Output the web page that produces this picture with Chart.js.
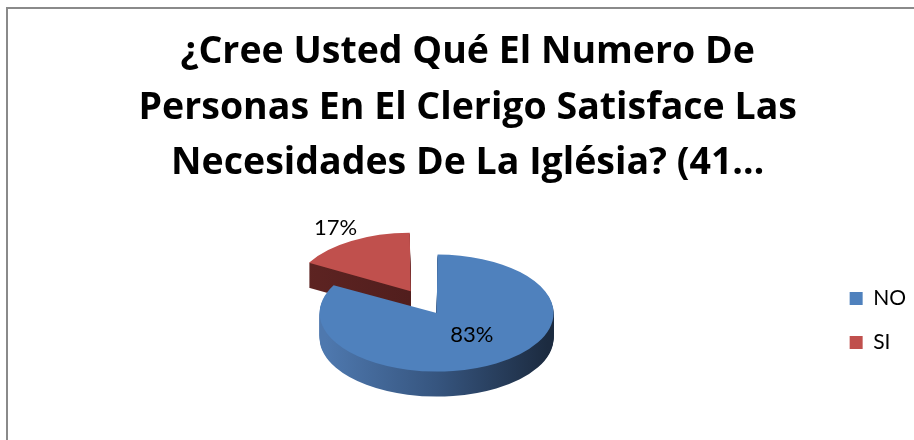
<!DOCTYPE html>
<html>
<head>
<meta charset="utf-8">
<script src="https://cdn.jsdelivr.net/npm/chart.js@4"></script>
<style>
  body { margin: 0; background: #fff; }
  .wrap { position: relative; width: 914px; height: 440px; overflow: hidden; }
  .frame {
    position: absolute; left: 6px; top: 7px; right: -10px; bottom: -10px;
    border-top: 2px solid #8a8a8a; border-left: 2px solid #8a8a8a;
    pointer-events: none;
  }
  canvas { position: absolute; left: 0; top: 0; }
</style>
</head>
<body>
<div class="wrap">
  <canvas id="chart" width="914" height="440"></canvas>
  <div class="frame"></div>
</div>
<script>
const titleLines = [
  "¿Cree Usted Qué El Numero De",
  "Personas En El Clerigo Satisface Las",
  "Necesidades De La Iglésia? (41…",
];
const answers = ["NO", "SI"];
const shares = [83, 17];
const topColors = ["#4f81bd", "#c0504d"];
const sideStops = [
  ["#4e78ae", "#36557f", "#1c2b40"],
  ["#5e2422", "#511e1d", "#461a19"],
];
const explode = [24, 180];

const tilt = 0.5;    // vertical squash of the disc
const depth = 25;    // thickness of the disc in px

// fake 3d: squash every arc and stack darker copies under it
const pie3d = {
  id: "pie3d",
  beforeDatasetsDraw(chart) {
    const ctx = chart.ctx;
    const arcs = chart.getDatasetMeta(0).data;
    const total = shares.reduce((a, b) => a + b, 0);
    const squash = (arc) => {
      ctx.translate(arc.x, arc.y);
      ctx.scale(1, tilt);
      ctx.translate(-arc.x, -arc.y);
    };
    // far slice first so the big one sits on top of it
    const order = arcs.map((a, i) => i).reverse();
    order.forEach((i) => {
      const arc = arcs[i];
      const R = arc.outerRadius;
      for (let d = depth; d >= 1; d--) {
        ctx.save();
        ctx.translate(0, d);
        squash(arc);
        const g = ctx.createLinearGradient(arc.x - R, 0, arc.x + R, 0);
        g.addColorStop(0, sideStops[i][0]);
        g.addColorStop(0.5, sideStops[i][1]);
        g.addColorStop(1, sideStops[i][2]);
        const ghost = Object.create(arc);
        ghost.options = Object.assign({}, arc.options, { backgroundColor: g, borderWidth: 0 });
        ghost.draw(ctx);
        ctx.restore();
      }
      ctx.save();
      squash(arc);
      arc.draw(ctx);
      ctx.restore();
    });

    // percentage labels
    ctx.save();
    ctx.font = "22px Lato";
    ctx.fillStyle = "#000";
    ctx.textAlign = "center";
    ctx.textBaseline = "middle";
    arcs.forEach((arc, i) => {
      const mid = (arc.startAngle + arc.endAngle) / 2;
      const shift = (arc.options.offset || 0) / 4;
      const part = shares[i] / total;
      const r = arc.outerRadius * (part < 0.3 ? 1.33 : 0.55) + shift;
      const x = arc.x + Math.cos(mid) * r + (part < 0.3 ? 0 : 4);
      const y = arc.y + Math.sin(mid) * r * tilt - (part < 0.3 ? 0 : 4);
      ctx.fillText(Math.round(part * 100) + "%", x, y);
    });
    ctx.restore();
    return false;
  },
};

const baseLabels = Chart.overrides.pie.plugins.legend.labels.generateLabels;

new Chart(document.querySelector("#chart"), {
  type: "pie",
  data: {
    labels: answers,
    datasets: [
      {
        data: shares,
        backgroundColor: topColors,
        borderWidth: 0,
        offset: explode,
        radius: 111,
      },
    ],
  },
  options: {
    responsive: false,
    animation: false,
    layout: { padding: { left: 19.5, right: -2, top: 0, bottom: 19 } },
    plugins: {
      title: {
        display: true,
        text: titleLines,
        color: "#000",
        font: { family: "Open Sans", size: 37.5, weight: "bold", lineHeight: 1.48 },
        padding: { top: 25, bottom: 8.5 },
      },
      legend: {
        position: "right",
        align: "center",
        fullSize: false,
        title: { display: true, text: " ", font: { size: 41, lineHeight: 1 }, padding: 0 },
        labels: {
          boxWidth: 13,
          boxHeight: 13,
          padding: 2,
          color: "#000",
          font: { family: "Lato", size: 21, lineHeight: 2 },
          generateLabels: (chart) =>
            baseLabels(chart).map((l) => Object.assign(l, { text: [l.text] })),
        },
      },
      tooltip: { enabled: false },
    },
  },
  plugins: [pie3d],
});
</script>
</body>
</html>
